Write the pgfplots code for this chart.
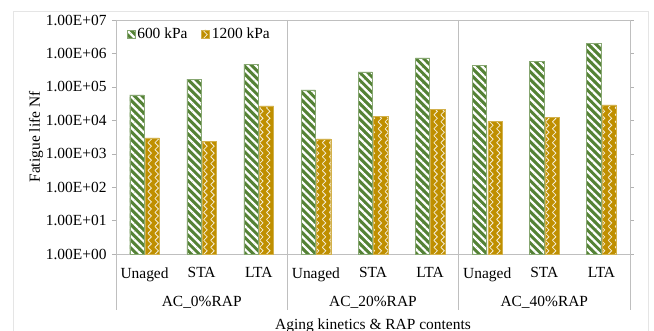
\documentclass[border=0pt]{standalone}
\usepackage{fontspec}
\setmainfont{Liberation Serif}
\usepackage{pgfplots}
\pgfplotsset{compat=1.18}
\usetikzlibrary{patterns,patterns.meta}
\definecolor{gr}{HTML}{548235}
\definecolor{go}{HTML}{BF8F00}
\pgfdeclarepatternformonly{zigzag}{\pgfqpoint{-1pt}{-1pt}}{\pgfqpoint{8pt}{8pt}}{\pgfqpoint{7pt}{7pt}}{%
  \pgfsetlinewidth{0.8pt}%
  \pgfpathmoveto{\pgfqpoint{1.5pt}{0pt}}%
  \pgfpathlineto{\pgfqpoint{5pt}{3.5pt}}%
  \pgfpathlineto{\pgfqpoint{1.5pt}{7pt}}%
  \pgfusepath{stroke}}
\begin{document}
\begin{tikzpicture}[font=\fontsize{15.5}{18}\selectfont]
\useasboundingbox (-116bp,-77bp) rectangle (538bp,254bp);
\draw[gray!20] (-103bp,243bp) rectangle (532bp,-90bp);
\begin{axis}[
  at={(0,0)}, anchor=south west,
  scale only axis, width=514bp, height=234bp,
  ymode=log, ymin=1, ymax=1e7, log origin=infty,
  xmin=-0.5, xmax=8.5,
  ybar, bar width=0.25,
  xtick={0,...,8},
  xticklabels={Unaged,STA,LTA,Unaged,STA,LTA,Unaged,STA,LTA},
  ytick={1,10,100,1000,1e4,1e5,1e6,1e7},
  yticklabels={1.00E+00,1.00E+01,1.00E+02,1.00E+03,1.00E+04,1.00E+05,1.00E+06,1.00E+07},
  axis line style={gray!50},
  x tick style={draw=none},
  y tick style={gray!60},
  tick align=outside, major tick length=4bp,
  minor tick num=0, yminorticks=false,
  xticklabel style={yshift=-6bp},
  yticklabel style={xshift=-2bp},
  clip=false,
  legend columns=2,
  legend style={draw=none, fill=none, at={(rel axis cs:0.015,0.985)}, anchor=north west,
    /tikz/every even column/.append style={column sep=12bp}},
  legend image code/.code={\draw[#1] (0bp,-4bp) rectangle (8bp,4bp);},
]
\addplot[bar shift=-0.135, fill=gr, draw=gr!70!white,
  postaction={pattern={Lines[angle=-45,distance=5.5bp,line width=2.2bp]}, pattern color=white}]
  coordinates {(0,5.8e4) (1,1.7e5) (2,4.8e5) (3,8.1e4) (4,2.8e5) (5,7.3e5) (6,4.5e5) (7,5.9e5) (8,2.0e6)};
\addplot[bar shift=0.135, fill=go, draw=go!70!white,
  postaction={pattern=zigzag, pattern color=white!85!go}]
  coordinates {(0,3.0e3) (1,2.3e3) (2,2.7e4) (3,2.8e3) (4,1.3e4) (5,2.1e4) (6,9.1e3) (7,1.2e4) (8,2.9e4)};
\legend{600 kPa,1200 kPa}
\foreach \xx in {-0.5,2.5,5.5,8.5} {
  \edef\tmp{\noexpand\draw[gray!50] (axis cs:\xx,1e7) -- ([yshift=-56bp]axis cs:\xx,1);}\tmp
}
\end{axis}
\node at (85.7bp,-48bp) {AC\_0\%RAP};
\node at (257bp,-48bp) {AC\_20\%RAP};
\node at (428.3bp,-48bp) {AC\_40\%RAP};
\node[inner sep=0pt, anchor=base] at (257bp,-75bp) {Aging kinetics \& RAP contents};
\node[rotate=90] at (-80bp,117bp) {Fatigue life Nf};
\end{tikzpicture}
\end{document}
